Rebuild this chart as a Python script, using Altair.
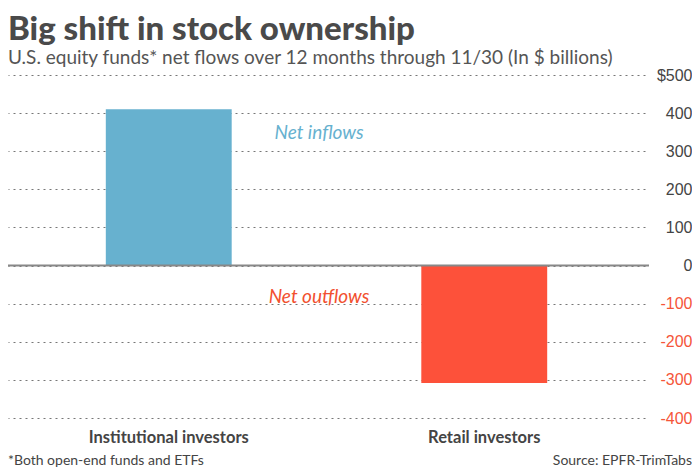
import altair as alt
import pandas as pd

categories = ["Institutional investors", "Retail investors"]
values = [410, -308]
bar_colors = ["#67b1cf", "#fd513a"]

note_texts = ["Net inflows", "Net outflows"]
note_values = [348, -83]
note_colors = ["#67b1cf", "#f2502f"]

tick_values = [-400, -300, -200, -100, 0, 100, 200, 300, 400, 500]

footer_left = "*Both open-end funds and ETFs"
footer_right = "Source: EPFR-TrimTabs"

W, H = 637, 343

bars_df = pd.DataFrame({"category": categories, "value": values, "color": bar_colors})
notes_df = pd.DataFrame({"text": note_texts, "value": note_values, "color": note_colors})

y_scale = alt.Scale(domain=[-400, 500], nice=False, zero=True)
y_axis = alt.Axis(
    title=None, orient="right", values=tick_values,
    domain=False, ticks=False,
    grid=True, gridDash=[2, 4], gridColor="#777777", gridWidth=1,
    labelFont="Liberation Sans", labelFontSize=16, labelAlign="right",
    labelPadding=47, labelOverlap=False, labelFlush=False,
    labelExpr="datum.value == 500 ? '$500' : datum.value",
    labelColor=alt.ExprRef("datum.value < 0 ? '#f5553a' : '#444444'"),
)

bars = alt.Chart(bars_df).mark_bar().encode(
    x=alt.X(
        "category:N",
        sort=categories,
        scale=alt.Scale(paddingInner=0.601, paddingOuter=0.31),
        axis=alt.Axis(
            title=None, domain=False, ticks=False, labelAngle=0,
            labelFont="Lato", labelFontSize=16.5, labelFontWeight=700,
            labelColor="#444444", labelPadding=11,
        ),
    ),
    y=alt.Y("value:Q", scale=y_scale, axis=y_axis),
    color=alt.Color("color:N", scale=None),
)

zero_df = pd.DataFrame({"value": [0]})
zero = alt.Chart(zero_df).mark_rule(color="#888888", strokeWidth=2).encode(
    y=alt.Y("value:Q", scale=y_scale, axis=y_axis),
    x=alt.value(0),
    x2=alt.value(W + 4),
)

notes = alt.Chart(notes_df).mark_text(
    font="Lato", fontSize=19, fontStyle="italic", align="center", baseline="middle"
).encode(
    x=alt.value(311),
    y=alt.Y("value:Q", scale=y_scale, axis=y_axis),
    text="text:N",
    color=alt.Color("color:N", scale=None),
)

foot_l = alt.Chart(pd.DataFrame({"t": [footer_left]})).mark_text(
    font="Lato", fontSize=14, align="left", baseline="middle", color="#444444"
).encode(x=alt.value(0), y=alt.value(H + 43), text="t:N")

foot_r = alt.Chart(pd.DataFrame({"t": [footer_right]})).mark_text(
    font="Lato", fontSize=14, align="right", baseline="middle", color="#444444"
).encode(x=alt.value(W + 47), y=alt.value(H + 43), text="t:N")

chart = alt.layer(bars, zero, notes, foot_l, foot_r).properties(
    width=W,
    height=H,
    autosize=alt.AutoSizeParams(type="none"),
    padding={"left": 0, "top": 67, "right": 47, "bottom": 52},
    title=alt.TitleParams(
        text="Big shift in stock ownership",
        subtitle="U.S. equity funds* net flows over 12 months through 11/30 (In $ billions)",
        anchor="start",
        frame="group",
        font="Lato",
        fontSize=33,
        fontWeight=900,
        color="#4a4a4a",
        subtitleFont="Lato",
        subtitleFontSize=19,
        subtitleColor="#555555",
        subtitlePadding=2,
        offset=-1,
    ),
).configure_view(stroke=None)

chart.save("out.html", embed_options={"renderer": "svg", "actions": False})
